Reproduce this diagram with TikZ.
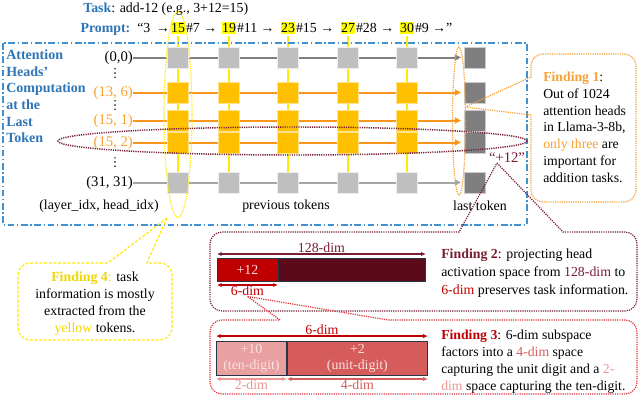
\documentclass[tikz,border=0pt]{standalone}
\usepackage{fontspec}
\setmainfont{Liberation Serif}
\usetikzlibrary{backgrounds,arrows.meta,shapes.geometric}
\definecolor{tblue}{RGB}{46,117,182}
\definecolor{dblue}{RGB}{64,145,210}
\definecolor{lorange}{RGB}{250,160,50}
\definecolor{rorange}{RGB}{250,150,30}
\definecolor{sqorange}{RGB}{255,192,0}
\definecolor{sqgray}{RGB}{191,191,191}
\definecolor{sqdark}{RGB}{127,127,127}
\definecolor{rgray}{RGB}{128,128,128}
\definecolor{rlgray}{RGB}{166,166,166}
\definecolor{ylinec}{RGB}{255,235,0}
\definecolor{hly}{RGB}{255,255,0}
\definecolor{fyellow}{RGB}{240,215,0}
\definecolor{maroonc}{RGB}{120,30,50}
\definecolor{barmaroon}{RGB}{92,10,26}
\definecolor{dred}{RGB}{192,0,0}
\definecolor{fred}{RGB}{225,50,60}
\definecolor{mred}{RGB}{214,92,92}
\definecolor{pinkbar}{RGB}{232,160,160}
\definecolor{pinkt}{RGB}{236,150,150}
\definecolor{bartext}{RGB}{250,225,225}
\definecolor{baredge}{RGB}{40,55,70}
\begin{document}
\begin{tikzpicture}[x=0.75pt,y=-0.75pt, font=\fontsize{10.4}{12.6}\selectfont,
  txt/.style={inner sep=0pt},
  gsq/.style={draw=white!70!sqgray, line width=0.6pt, fill=sqgray, minimum size=15.75pt, inner sep=0pt},
  osq/.style={draw=white!55!sqorange, line width=0.6pt, fill=sqorange, minimum size=15.75pt, inner sep=0pt},
  lsq/.style={draw=white!60!sqdark, line width=0.6pt, fill=sqdark, minimum size=15.75pt, inner sep=0pt},
  hlnum/.style={fill=hly, inner xsep=0.4pt, inner ysep=1pt},
  rowtip/.style={-{Triangle[length=4.5pt,width=4.5pt]}, shorten >=2.4pt},
  rowA/.style={draw=rgray, line width=1.5pt, rowtip},
  rowO/.style={draw=rorange, line width=1.5pt, rowtip},
  rowB/.style={draw=rlgray, line width=1.5pt, rowtip},
  yline/.style={draw=ylinec, line width=1.5pt, shorten <=1.5pt},
  dimm/.style={{Latex[length=3.5pt,width=3.2pt]}-{Latex[length=3.5pt,width=3.2pt]}, line width=0.9pt},
  dotl/.style={line width=0.9pt, dash pattern=on 0.9pt off 0.8pt},
  barA/.style={draw=baredge, line width=0.7pt, inner sep=0pt, anchor=north west, minimum height=17.25pt},
  barB/.style={draw=baredge, line width=0.7pt, inner sep=0pt, anchor=north west, minimum height=25.5pt, align=center, text=bartext, font=\fontsize{10.4}{12}\selectfont},
  lab/.style={anchor=east, inner sep=0pt, font=\fontsize{11}{13}\selectfont}
]
\useasboundingbox (0,0) rectangle (640,396);

% header
\node[txt, anchor=west] (task) at (83,9) {{\color{tblue}\bfseries Task}: add-12 (e.g., 3+12=15)};
\node[hlnum] (n1) at (178,28) {15};
\node[hlnum] (n2) at (229,28) {19};
\node[hlnum] (n3) at (288,28) {23};
\node[hlnum] (n4) at (348,28) {27};
\node[hlnum] (n5) at (407,28) {30};
\node[txt, anchor=base east] (p0) at (n1.base west) {{\color{tblue}\bfseries Prompt:}\, “3\, →\ };
\node[txt, anchor=base west] (p1) at (n1.base east) {\#7 →};
\node[txt, anchor=base west] (p2) at (n2.base east) {\#11 →};
\node[txt, anchor=base west] (p3) at (n3.base east) {\#15 →};
\node[txt, anchor=base west] (p4) at (n4.base east) {\#28 →};
\node[txt, anchor=base west] (p5) at (n5.base east) {\#9 →”};

% blue frame
\draw[dblue, line width=1pt, dash pattern=on 5pt off 2pt on 1pt off 2pt] (3,43) rectangle (527,225);
\node[txt, anchor=north west, align=left, text=tblue, font=\bfseries\fontsize{10.5}{12.45}\selectfont] (title) at (6,49.8)
  {Attention\\Heads’\\Computation\\at the\\Last\\Token};

% row labels
\node[lab] (l0) at (133,57.5) {(0,0)};
\node[lab, text=lorange] (l1) at (133,92.5) {(13, 6)};
\node[lab, text=lorange] (l2) at (133,120.5) {(15, 1)};
\node[lab, text=lorange] (l3) at (133,142.5) {(15, 2)};
\node[lab] (l4) at (133,182.5) {(31, 31)};
% vertical ellipsis dots
\foreach \y in {73,105,162}
  \foreach \d in {-4.2,0,4.2}
    \fill (115,\y+\d) circle (0.6pt);

% squares
\foreach \c/\x in {1/178,2/229,3/288,4/348,5/407} {
  \node[gsq] (s\c-0) at (\x,57.5) {};
  \node[osq] (s\c-1) at (\x,92.5) {};
  \node[osq] (s\c-2) at (\x,120.5) {};
  \node[osq] (s\c-3) at (\x,142.5) {};
  \node[gsq] (s\c-4) at (\x,182.5) {};
}
\foreach \r/\y in {0/57.5,1/92.5,2/120.5,3/142.5,4/182.5}
  \node[lsq] (L\r) at (475,\y) {};

\begin{scope}[on background layer]
  \fill[white] (0,0) rectangle (640,396);
  \foreach \c in {1,...,5} \draw[yline] (n\c) -- (s\c-4);
  \foreach \r/\st in {0/rowA,1/rowO,2/rowO,3/rowO,4/rowB}
    \draw[\st] (l\r) -- (s1-\r) -- (s2-\r) -- (s3-\r) -- (s4-\r) -- (s5-\r) -- (L\r);
\end{scope}

% bottom captions
\node (cap1) at (99,206.5) {(layer\_idx, head\_idx)};
\node (cap2) at (286,206.5) {previous tokens};
\node (cap3) at (480,205.7) {last token};

% ellipses
\node[draw=ylinec, dotl, ellipse, minimum width=21pt, minimum height=154.5pt, inner sep=0pt] (yell) at (178,114.5) {};
\node[draw=lorange, dotl, ellipse, minimum width=9.75pt, minimum height=111pt, inner sep=0pt] (oell) at (459,121) {};
\node[draw=maroonc, dotl, line width=1.1pt, ellipse, minimum width=351.75pt, minimum height=21pt, inner sep=0pt] (mell) at (292.5,141) {};
\node[text=maroonc, font=\fontsize{11}{13}\selectfont] (plus) at (507,158) {“+12”};

% Finding 1
\draw[draw=lorange, dotl] (465,107) -- (531,115) [rounded corners=9pt] -- (531,202) -- (636,202) -- (636,54) -- (531,54) [sharp corners] -- (531,77) -- (465,107);
\node[txt, anchor=north west, align=left, font=\fontsize{10.3}{12.6}\selectfont] (f1) at (543,71.8)
  {{\color{lorange}\bfseries Finding 1}:\\Out of 1024\\attention heads\\in Llama-3-8b,\\{\color{lorange}only three} are\\important for\\addition tasks.};

% Finding 2
\draw[draw=maroonc, dotl] (497,163) -- (563,232) [rounded corners=9pt] -- (637,232) -- (637,311) -- (210,311) -- (210,232) [sharp corners] -- (459,232) -- (497,163);
\node[barA, fill=dred, text=bartext, minimum width=45pt] (b12) at (217,258) {+12};
\node[barA, fill=barmaroon, minimum width=110.25pt] (b116) at (b12.north east) {};
\draw[dimm, maroonc] ([yshift=3pt]b12.north west) -- ([yshift=3pt]b116.north east)
  node[midway, above=0.4pt, inner sep=0pt, text=maroonc] (t128) {128-dim};
\draw[dimm, dred] ([yshift=-2.3pt]b12.south west) -- ([yshift=-2.3pt]b12.south east)
  node[midway, below=0.4pt, inner sep=0pt, text=dred] (t6) {6-dim};
\node[txt, anchor=north west, align=left, font=\fontsize{10.4}{13.5}\selectfont] (f2) at (441,248.8)
  {{\color{maroonc}\bfseries Finding 2}: projecting head\\activation space from {\color{maroonc}128-dim} to\\{\color{dred}6-dim} preserves task information.};

% Finding 3
\draw[draw=fred, dotl] (t6.south) -- (388,320) [rounded corners=9pt] -- (637,320) -- (637,394) -- (210,394) -- (210,320) [sharp corners] -- (280,320) -- (t6.south);
\node[barB, fill=pinkbar, minimum width=52.5pt] (b10) at (216,341) {+10\\(ten-digit)};
\node[barB, fill=mred, minimum width=105pt] (b2) at (b10.north east) {+2\\(unit-digit)};
\draw[dimm, dred] ([yshift=3.7pt]b10.north west) -- ([yshift=3.7pt]b2.north east)
  node[midway, above=0.4pt, inner sep=0pt, text=dred] (t6b) {6-dim};
\draw[dimm, pinkt] ([yshift=-2.3pt]b10.south west) -- ([yshift=-2.3pt]b10.south east)
  node[midway, below=0.4pt, inner sep=0pt, text=pinkt] (t2) {2-dim};
\draw[dimm, mred] ([yshift=-2.3pt]b2.south west) -- ([yshift=-2.3pt]b2.south east)
  node[midway, below=0.4pt, inner sep=0pt, text=mred] (t4) {4-dim};
\node[txt, anchor=north west, align=left, font=\fontsize{10.3}{12.75}\selectfont] (f3) at (441,329.8)
  {{\color{dred}\bfseries Finding 3}: 6-dim subspace\\factors into a {\color{mred}4-dim} space\\capturing the unit digit and a {\color{pinkt}2-}\\{\color{pinkt}dim} space capturing the ten-digit.};

% Finding 4
\draw[draw=ylinec, line width=0.9pt, dash pattern=on 2.2pt off 1.3pt] (167,218) -- (147,263) [rounded corners=9pt] -- (172,263) -- (172,340) -- (18,340) -- (18,263) [sharp corners] -- (108,263) -- (167,218);
\node[txt, anchor=north, align=center, font=\fontsize{10.4}{12.6}\selectfont] (f4) at (95,271.8)
  {{\color{fyellow}\bfseries Finding 4}{\color{fyellow}:} task\\information is mostly\\extracted from the\\{\color{fyellow}yellow} tokens.};
\end{tikzpicture}
\end{document}
